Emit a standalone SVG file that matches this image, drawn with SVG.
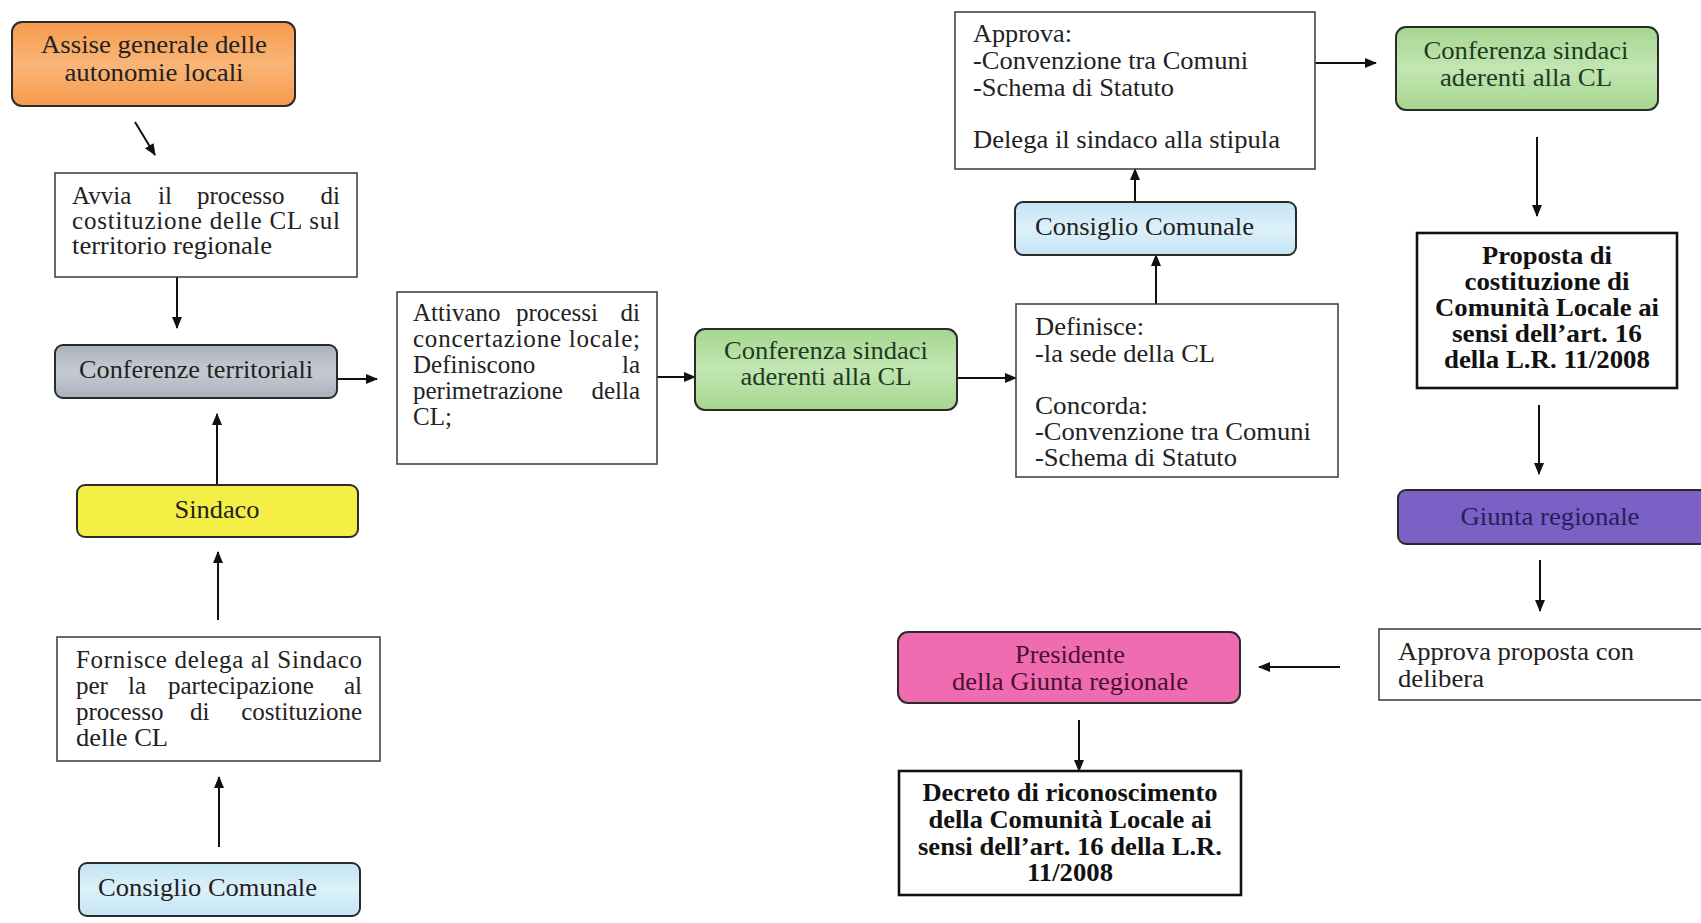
<svg xmlns="http://www.w3.org/2000/svg" width="1701" height="923" viewBox="0 0 1701 923">
<style>
text{font-family:"Liberation Serif","Times New Roman",serif;font-size:25px;fill:#222}
.b{font-weight:bold;font-size:25.5px;fill:#111}
.c{text-anchor:middle}
.e{text-anchor:end}
.box{fill:#fff;stroke:#444;stroke-width:1.6}
.bold{fill:#fff;stroke:#111;stroke-width:2.6}
.rr{stroke:#2a2a2a;stroke-width:2}
.ln{stroke:#111;stroke-width:2;fill:none;marker-end:url(#ah)}
</style>
<defs>
<marker id="ah" markerUnits="userSpaceOnUse" markerWidth="12" markerHeight="12" viewBox="0 0 12 12" refX="11" refY="6" orient="auto">
<path d="M0,1 L12,6 L0,11 Z" fill="#111"/>
</marker>
<linearGradient id="gO" x1="0" y1="0" x2="0" y2="1"><stop offset="0" stop-color="#f59a4c"/><stop offset="0.5" stop-color="#f9b679"/><stop offset="1" stop-color="#f59a4c"/></linearGradient>
<linearGradient id="gG" x1="0" y1="0" x2="0" y2="1"><stop offset="0" stop-color="#a6d690"/><stop offset="0.5" stop-color="#c2e6b2"/><stop offset="1" stop-color="#a6d690"/></linearGradient>
<linearGradient id="gB" x1="0" y1="0" x2="0" y2="1"><stop offset="0" stop-color="#c4e4f3"/><stop offset="0.5" stop-color="#dcf1fa"/><stop offset="1" stop-color="#c4e4f3"/></linearGradient>
<linearGradient id="gS" x1="0" y1="0" x2="0" y2="1"><stop offset="0" stop-color="#abb1bc"/><stop offset="0.5" stop-color="#c6cbd3"/><stop offset="1" stop-color="#abb1bc"/></linearGradient>
</defs>
<rect width="1701" height="923" fill="#fff"/>

<g id="connectors">
<line class="ln" x1="135" y1="122" x2="155" y2="155"/>
<line class="ln" x1="177" y1="277" x2="177" y2="328"/>
<line class="ln" x1="217" y1="484" x2="217" y2="414"/>
<line class="ln" x1="218" y1="620" x2="218" y2="552"/>
<line class="ln" x1="219" y1="847" x2="219" y2="777"/>
<line class="ln" x1="336" y1="379" x2="377" y2="379"/>
<line class="ln" x1="657" y1="377" x2="695" y2="377"/>
<line class="ln" x1="957" y1="378" x2="1016" y2="378"/>
<line class="ln" x1="1156" y1="304" x2="1156" y2="255"/>
<line class="ln" x1="1135" y1="202" x2="1135" y2="169"/>
<line class="ln" x1="1315" y1="63" x2="1376" y2="63"/>
<line class="ln" x1="1537" y1="137" x2="1537" y2="216"/>
<line class="ln" x1="1539" y1="405" x2="1539" y2="474"/>
<line class="ln" x1="1540" y1="560" x2="1540" y2="611"/>
<line class="ln" x1="1340" y1="667" x2="1259" y2="667"/>
<line class="ln" x1="1079" y1="720" x2="1079" y2="771"/>
</g>

<g id="assise">
<rect class="rr" x="12" y="22" width="283" height="84" rx="10" fill="url(#gO)"/>
<text class="c" x="154" y="53" textLength="226" lengthAdjust="spacingAndGlyphs">Assise generale delle</text>
<text class="c" x="154" y="81" textLength="179" lengthAdjust="spacingAndGlyphs">autonomie locali</text>
</g>

<g id="avvia">
<rect class="box" x="55" y="173" width="302" height="104"/>
<text x="72" y="204">Avvia</text><text x="158" y="204">il</text><text x="197" y="204">processo</text><text class="e" x="340" y="204">di</text>
<text x="72" y="229" textLength="268" lengthAdjust="spacing">costituzione delle CL sul</text>
<text x="72" y="254" textLength="200" lengthAdjust="spacingAndGlyphs">territorio regionale</text>
</g>

<g id="conferenze-territoriali">
<rect class="rr" x="55" y="345" width="282" height="53" rx="8" fill="url(#gS)"/>
<text class="c" x="196" y="378" textLength="234" lengthAdjust="spacingAndGlyphs">Conferenze territoriali</text>
</g>

<g id="sindaco">
<rect class="rr" x="77" y="485" width="281" height="52" rx="8" fill="#f3ef45"/>
<text class="c" x="217" y="518" textLength="85" lengthAdjust="spacingAndGlyphs">Sindaco</text>
</g>

<g id="fornisce">
<rect class="box" x="57" y="637" width="323" height="124"/>
<text x="76" y="668" textLength="286" lengthAdjust="spacing">Fornisce delega al Sindaco</text>
<text x="76" y="694">per</text><text x="128" y="694">la</text><text x="168" y="694">partecipazione</text><text class="e" x="362" y="694">al</text>
<text x="76" y="720">processo</text><text x="190" y="720">di</text><text class="e" x="362" y="720">costituzione</text>
<text x="76" y="746" textLength="92" lengthAdjust="spacingAndGlyphs">delle CL</text>
</g>

<g id="consiglio-comunale-1">
<rect class="rr" x="79" y="863" width="281" height="53" rx="8" fill="url(#gB)"/>
<text x="98" y="896" textLength="219" lengthAdjust="spacingAndGlyphs">Consiglio Comunale</text>
</g>

<g id="attivano">
<rect class="box" x="397" y="292" width="260" height="172"/>
<text x="413" y="321">Attivano</text><text x="516" y="321">processi</text><text class="e" x="640" y="321">di</text>
<text x="413" y="347" textLength="227" lengthAdjust="spacing">concertazione locale;</text>
<text x="413" y="373">Definiscono</text><text class="e" x="640" y="373">la</text>
<text x="413" y="399">perimetrazione</text><text class="e" x="640" y="399">della</text>
<text x="413" y="425">CL;</text>
</g>

<g id="conferenza-sindaci-1">
<rect class="rr" x="695" y="329" width="262" height="81" rx="10" fill="url(#gG)"/>
<text class="c" x="826" y="359" textLength="204" lengthAdjust="spacingAndGlyphs" style="fill:#1e3b22">Conferenza sindaci</text>
<text class="c" x="826" y="385" textLength="171" lengthAdjust="spacingAndGlyphs" style="fill:#1e3b22">aderenti alla CL</text>
</g>

<g id="definisce">
<rect class="box" x="1016" y="304" width="322" height="173"/>
<text x="1035" y="335" textLength="109" lengthAdjust="spacingAndGlyphs">Definisce:</text>
<text x="1035" y="362" textLength="180" lengthAdjust="spacingAndGlyphs">-la sede della CL</text>
<text x="1035" y="414" textLength="113" lengthAdjust="spacingAndGlyphs">Concorda:</text>
<text x="1035" y="440" textLength="276" lengthAdjust="spacingAndGlyphs">-Convenzione tra Comuni</text>
<text x="1035" y="466" textLength="202" lengthAdjust="spacingAndGlyphs">-Schema di Statuto</text>
</g>

<g id="consiglio-comunale-2">
<rect class="rr" x="1015" y="202" width="281" height="53" rx="8" fill="url(#gB)"/>
<text x="1035" y="235" textLength="219" lengthAdjust="spacingAndGlyphs">Consiglio Comunale</text>
</g>

<g id="approva">
<rect class="box" x="955" y="12" width="360" height="157"/>
<text x="973" y="42" textLength="99" lengthAdjust="spacingAndGlyphs">Approva:</text>
<text x="973" y="69" textLength="275" lengthAdjust="spacingAndGlyphs">-Convenzione tra Comuni</text>
<text x="973" y="96" textLength="201" lengthAdjust="spacingAndGlyphs">-Schema di Statuto</text>
<text x="973" y="148" textLength="307" lengthAdjust="spacingAndGlyphs">Delega il sindaco alla stipula</text>
</g>

<g id="conferenza-sindaci-2">
<rect class="rr" x="1396" y="27" width="262" height="83" rx="10" fill="url(#gG)"/>
<text class="c" x="1526" y="59" textLength="205" lengthAdjust="spacingAndGlyphs" style="fill:#1e3b22">Conferenza sindaci</text>
<text class="c" x="1526" y="86" textLength="172" lengthAdjust="spacingAndGlyphs" style="fill:#1e3b22">aderenti alla CL</text>
</g>

<g id="proposta">
<rect class="bold" x="1417" y="233" width="260" height="155"/>
<text class="b c" x="1547" y="264" textLength="130" lengthAdjust="spacingAndGlyphs">Proposta di</text>
<text class="b c" x="1547" y="290" textLength="165" lengthAdjust="spacingAndGlyphs">costituzione di</text>
<text class="b c" x="1547" y="316" textLength="224" lengthAdjust="spacingAndGlyphs">Comunità Locale ai</text>
<text class="b c" x="1547" y="342" textLength="190" lengthAdjust="spacingAndGlyphs">sensi dell’art. 16</text>
<text class="b c" x="1547" y="368" textLength="206" lengthAdjust="spacingAndGlyphs">della L.R. 11/2008</text>
</g>

<g id="giunta">
<rect class="rr" x="1398" y="490" width="310" height="54" rx="8" fill="#7b61c6"/>
<text class="c" x="1550" y="525" textLength="179" lengthAdjust="spacingAndGlyphs" style="fill:#23215a">Giunta regionale</text>
</g>

<g id="approva-proposta">
<rect class="box" x="1379" y="629" width="330" height="71"/>
<text x="1398" y="660" textLength="236" lengthAdjust="spacingAndGlyphs">Approva proposta con</text>
<text x="1398" y="687" textLength="86" lengthAdjust="spacingAndGlyphs">delibera</text>
</g>

<g id="presidente">
<rect class="rr" x="898" y="632" width="342" height="71" rx="10" fill="#ef6cb1"/>
<text class="c" x="1070" y="663" textLength="110" lengthAdjust="spacingAndGlyphs" style="fill:#4b1030">Presidente</text>
<text class="c" x="1070" y="690" textLength="236" lengthAdjust="spacingAndGlyphs" style="fill:#4b1030">della Giunta regionale</text>
</g>

<g id="decreto">
<rect class="bold" x="899" y="771" width="342" height="124"/>
<text class="b c" x="1070" y="801" textLength="295" lengthAdjust="spacingAndGlyphs">Decreto di riconoscimento</text>
<text class="b c" x="1070" y="828" textLength="283" lengthAdjust="spacingAndGlyphs">della Comunità Locale ai</text>
<text class="b c" x="1070" y="855" textLength="304" lengthAdjust="spacingAndGlyphs">sensi dell’art. 16 della L.R.</text>
<text class="b c" x="1070" y="881" textLength="86" lengthAdjust="spacingAndGlyphs">11/2008</text>
</g>
</svg>
